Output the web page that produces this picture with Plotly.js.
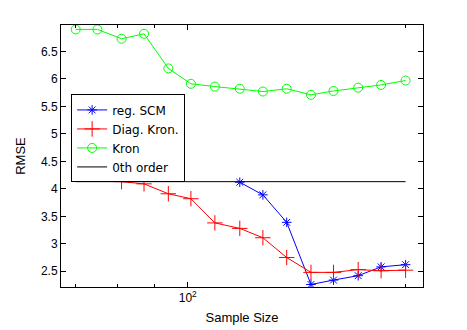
<!DOCTYPE html>
<html>
<head>
<meta charset="utf-8">
<script src="https://cdn.plot.ly/plotly-3.0.1.min.js"></script>
<style>
  body { margin: 0; background: #fff; }
  #plot { width: 467px; height: 330px; }
</style>
</head>
<body>
<div id="plot"></div>
<script>
// sample sizes
var sampleSize = [70, 75, 81, 87, 94, 101, 109, 118, 127, 137, 148, 159, 172, 185, 200];

var regScmX = [118, 127, 137, 148, 159, 172, 185, 200];
var regScm = [4.12, 3.89, 3.39, 2.26, 2.34, 2.42, 2.58, 2.62];

var diagKronX = [81, 87, 94, 101, 109, 118, 127, 137, 148, 159, 172, 185, 200];
var diagKron = [4.13, 4.09, 3.91, 3.82, 3.38, 3.28, 3.11, 2.75, 2.48, 2.48, 2.53, 2.51, 2.52];

var kron = [6.90, 6.90, 6.73, 6.82, 6.19, 5.91, 5.86, 5.82, 5.77, 5.82, 5.71, 5.78, 5.84, 5.89, 5.97];

var zerothX = [70, 200];
var zeroth = [4.13, 4.13];

var data = [
    {
        x: regScmX, y: regScm, type: 'scatter', mode: 'lines+markers',
        name: 'reg. SCM',
        line: {color: '#0000ff', width: 1},
        marker: {symbol: 'asterisk-open', size: 8, line: {color: '#0000ff', width: 1}}
    },
    {
        x: diagKronX, y: diagKron, type: 'scatter', mode: 'lines+markers',
        name: 'Diag. Kron.',
        line: {color: '#ff0000', width: 1},
        marker: {symbol: 'cross-thin-open', size: 11, line: {color: '#ff0000', width: 1}}
    },
    {
        x: sampleSize, y: kron, type: 'scatter', mode: 'lines+markers',
        name: 'Kron',
        line: {color: '#00ff00', width: 1},
        marker: {symbol: 'circle-open', size: 9, color: '#00ff00', line: {color: '#00ff00', width: 1}}
    },
    {
        x: zerothX, y: zeroth, type: 'scatter', mode: 'lines',
        name: '0th order',
        line: {color: '#000000', width: 1}
    }
];

var layout = {
    width: 467,
    height: 330,
    margin: {l: 61, r: 44, t: 25, b: 43},
    paper_bgcolor: '#ffffff',
    plot_bgcolor: '#ffffff',
    font: {family: 'Liberation Sans, Arial, sans-serif', size: 12, color: '#000'},
    showlegend: true,
    legend: {
        x: 0.028, y: 0.735, xanchor: 'left', yanchor: 'top',
        bgcolor: '#ffffff', bordercolor: '#000000', borderwidth: 1,
        font: {family: 'DejaVu Sans, sans-serif', size: 12}
    },
    xaxis: {
        type: 'log',
        range: [Math.log10(66.8), Math.log10(211.4)],
        tickmode: 'array',
        tickvals: [100],
        ticktext: ['10<sup>2</sup>'],
        ticks: 'inside',
        ticklen: 5,
        tickcolor: '#000',
        minor: {tickmode: 'array', tickvals: [70, 80, 90, 200], ticks: 'inside', ticklen: 3, tickcolor: '#000'},
        showline: true,
        linecolor: '#000',
        mirror: 'ticks',
        showgrid: false,
        zeroline: false,
        title: {text: 'Sample Size', font: {size: 13}, standoff: 8}
    },
    yaxis: {
        range: [2.214, 6.98],
        tickmode: 'linear',
        tick0: 2.5,
        dtick: 0.5,
        ticks: 'inside',
        ticklen: 5,
        tickcolor: '#000',
        showline: true,
        linecolor: '#000',
        mirror: 'ticks',
        showgrid: false,
        zeroline: false,
        title: {text: 'RMSE', font: {size: 13}, standoff: 12}
    }
};

Plotly.newPlot('plot', data, layout, {displayModeBar: false, staticPlot: true});
</script>
</body>
</html>
